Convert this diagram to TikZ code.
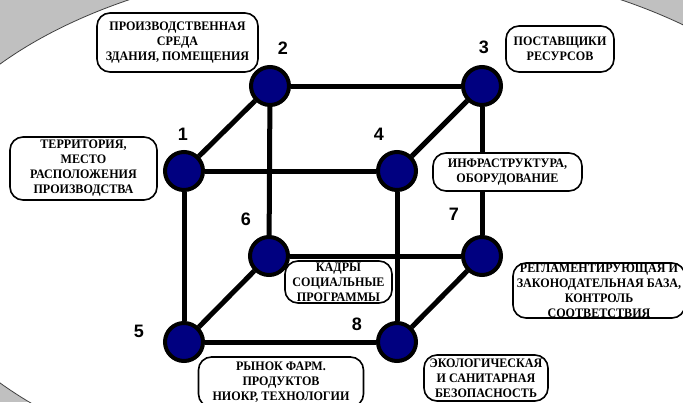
\documentclass[tikz,border=0pt]{standalone}
\usepackage{fontspec}
\setmainfont{Liberation Serif}[FakeStretch=0.93]
\newfontfamily\numfont{Liberation Sans}

\definecolor{bggray}{RGB}{192,192,192}
\definecolor{nodeblue}{RGB}{0,0,128}

\tikzset{
 vertex/.style={circle,draw=black,line width=4pt,fill=nodeblue,minimum size=38pt,inner sep=0pt},
 edge/.style={line width=5pt},
 numlabel/.style={font=\numfont\bfseries\fontsize{18}{18}\selectfont,inner sep=0pt},
 tag/.style={draw,line width=1.6pt,rounded corners=13pt,fill=white,align=center,inner sep=0pt,
  font=\bfseries\fontsize{13}{15}\selectfont}
}

\begin{document}
\begin{tikzpicture}[x=1pt,y=-1pt]
 \useasboundingbox (0,0) rectangle (683,402);
 \clip (0,0) rectangle (683,402);
 % background
 \fill[bggray] (0,0) rectangle (683,402);
 \filldraw[fill=white,draw=black!75,line width=0.8pt] (375,223.5) ellipse [x radius=472.5,y radius=262];

 % cube vertices
 \node[vertex] (n1) at (184,171) {};
 \node[vertex] (n2) at (270,86) {};
 \node[vertex] (n3) at (482,86) {};
 \node[vertex] (n4) at (397,171) {};
 \node[vertex] (n5) at (184,342) {};
 \node[vertex] (n6) at (269,256) {};
 \node[vertex] (n7) at (482,256) {};
 \node[vertex] (n8) at (397,342) {};

 % cube edges
 \draw[edge] (n1) -- (n2);
 \draw[edge] (n2) -- (n3);
 \draw[edge] (n3) -- (n4);
 \draw[edge] (n1) -- (n4);
 \draw[edge] (n1) -- (n5);
 \draw[edge] (n2) -- (n6);
 \draw[edge] (n3) -- (n7);
 \draw[edge] (n4) -- (n8);
 \draw[edge] (n5) -- (n6);
 \draw[edge] (n6) -- (n7);
 \draw[edge] (n7) -- (n8);
 \draw[edge] (n5) -- (n8);

 % labels
 \node[tag,minimum width=161pt,minimum height=59pt] (t2) at (177.5,42.5) {ПРОИЗВОДСТВЕННАЯ\\СРЕДА\\ЗДАНИЯ, ПОМЕЩЕНИЯ};
 \node[tag,minimum width=108pt,minimum height=46pt] (t3) at (560,49) {ПОСТАВЩИКИ\\РЕСУРСОВ};
 \node[tag,minimum width=147pt,minimum height=63pt] (t1) at (83.5,168.5) {ТЕРРИТОРИЯ,\\МЕСТО\\РАСПОЛОЖЕНИЯ\\ПРОИЗВОДСТВА};
 \node[tag,minimum width=149pt,minimum height=38pt] (t4) at (507.5,172) {ИНФРАСТРУКТУРА,\\ОБОРУДОВАНИЕ};
 \node[tag,minimum width=107pt,minimum height=42pt] (t6) at (338.5,282) {КАДРЫ\\СОЦИАЛЬНЫЕ\\ПРОГРАММЫ};
 \node[tag,minimum width=172pt,minimum height=55pt] (t7) at (599,290.5) {РЕГЛАМЕНТИРУЮЩАЯ И\\ЗАКОНОДАТЕЛЬНАЯ БАЗА,\\КОНТРОЛЬ\\СООТВЕТСТВИЯ};
 \node[tag,minimum width=165pt,minimum height=50pt] (t5) at (281,382) {РЫНОК ФАРМ.\\ПРОДУКТОВ\\НИОКР, ТЕХНОЛОГИИ};
 \node[tag,minimum width=124pt,minimum height=46pt] (t8) at (486,378) {ЭКОЛОГИЧЕСКАЯ\\И САНИТАРНАЯ\\БЕЗОПАСНОСТЬ};

 % numbers
 \node[numlabel] (l1) at (183,134) {1};
 \node[numlabel] (l2) at (283,48) {2};
 \node[numlabel] (l3) at (484,47) {3};
 \node[numlabel] (l4) at (379,134) {4};
 \node[numlabel] (l5) at (139,331) {5};
 \node[numlabel] (l6) at (246,219) {6};
 \node[numlabel] (l7) at (454,214) {7};
 \node[numlabel] (l8) at (357,324) {8};
\end{tikzpicture}
\end{document}
